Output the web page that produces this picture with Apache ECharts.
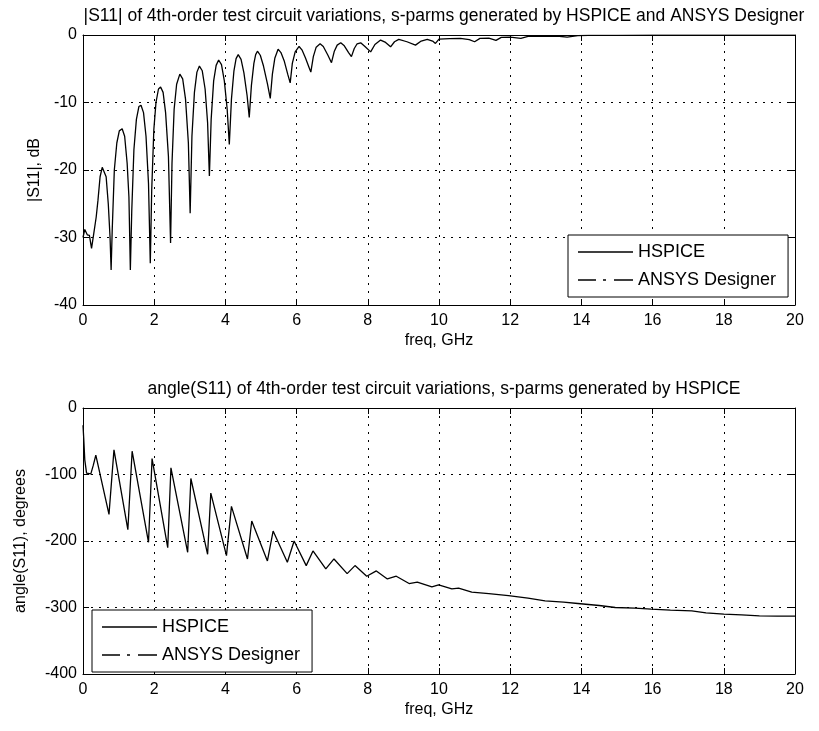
<!DOCTYPE html>
<html lang="en">
<head>
    <meta charset="UTF-8">
    <title>S11 of 4th-order test circuit</title>
    <script src="https://cdn.jsdelivr.net/npm/echarts@6/dist/echarts.min.js"></script>
    <style>
        body, html { margin: 0; padding: 0; background: #fff; }
        #main { width: 819px; height: 731px; }
    </style>
</head>
<body>
    <div id="main"></div>
    <script>
        // |S11| in dB (freq in GHz)
        var magFreq = [0.00, 0.05, 0.12, 0.18, 0.24, 0.30, 0.37, 0.42, 0.48, 0.54, 0.59, 0.65, 0.71, 0.76, 0.79,
            0.82, 0.88, 0.95, 1.02, 1.10, 1.17, 1.24, 1.29, 1.33,
            1.37, 1.43, 1.50, 1.57, 1.63, 1.70, 1.77, 1.84, 1.89,
            1.93, 1.99, 2.05, 2.12, 2.18, 2.25, 2.32, 2.40, 2.46,
            2.50, 2.56, 2.63, 2.72, 2.80, 2.88, 2.96, 3.01,
            3.06, 3.13, 3.20, 3.27, 3.35, 3.43, 3.50, 3.55,
            3.60, 3.67, 3.74, 3.81, 3.89, 3.97, 4.05, 4.11,
            4.17, 4.24, 4.30, 4.36, 4.44, 4.52, 4.61, 4.67,
            4.73, 4.80, 4.85, 4.90, 4.98, 5.07, 5.18, 5.26,
            5.32, 5.39, 5.48, 5.56, 5.65, 5.75, 5.82,
            5.88, 5.96, 6.07, 6.15, 6.25, 6.35, 6.40,
            6.47, 6.55, 6.66, 6.75, 6.88, 6.98,
            7.06, 7.14, 7.24, 7.34, 7.46, 7.54,
            7.62, 7.70, 7.80, 7.92, 8.08,
            8.20, 8.36, 8.50, 8.64, 8.75, 8.87, 9.10, 9.34, 9.50, 9.67, 9.82, 9.90,
            10.00, 10.30, 10.60, 10.85, 11.00, 11.15, 11.40, 11.60, 11.75, 12.00, 12.30, 12.50,
            13.00, 13.30, 13.60, 13.90, 14.20, 15.00, 16.00, 18.00, 20.00];
        var magDb = [-30.0, -28.8, -29.6, -29.7, -31.6, -29.5, -27.0, -24.5, -21.0, -19.6, -19.5, -21.0, -25.0, -30.0, -34.8,
            -29.0, -20.0, -16.0, -14.2, -13.9, -15.0, -19.0, -24.0, -34.8,
            -26.0, -17.0, -12.5, -10.6, -10.4, -11.5, -15.0, -22.0, -33.8,
            -23.0, -14.0, -10.0, -8.0, -7.7, -8.5, -11.5, -18.0, -30.8,
            -19.0, -11.0, -7.3, -5.8, -6.5, -9.5, -16.0, -26.4,
            -15.0, -8.5, -5.5, -4.6, -5.3, -8.0, -13.0, -20.9,
            -12.5, -6.8, -4.5, -3.7, -4.4, -6.8, -11.0, -16.2,
            -9.5, -5.3, -3.5, -2.9, -3.6, -5.6, -9.0, -12.2,
            -7.5, -4.2, -2.9, -2.4, -3.0, -4.6, -7.2, -9.4,
            -5.8, -3.4, -2.1, -2.6, -3.8, -5.8, -7.1,
            -4.2, -2.5, -1.7, -2.2, -3.4, -4.8, -5.5,
            -3.2, -1.8, -1.3, -1.7, -3.0, -4.1,
            -2.4, -1.5, -1.15, -1.6, -2.6, -3.2,
            -2.0, -1.3, -1.15, -1.7, -2.5,
            -1.4, -0.75, -1.1, -1.75, -1.0, -0.65, -1.0, -1.5, -0.9, -0.65, -0.9, -1.25,
            -0.6, -0.55, -0.5, -0.7, -1.0, -0.5, -0.45, -0.8, -0.35, -0.3, -0.5, -0.2,
            -0.2, -0.15, -0.3, -0.1, -0.05, -0.05, -0.03, -0.02, -0.02];

        // angle(S11) in degrees
        var angFreq = [0.00, 0.02, 0.05, 0.10, 0.15, 0.22, 0.29, 0.36,
            0.73, 0.87, 1.26, 1.38, 1.84, 1.94, 2.38, 2.47, 2.94, 3.03, 3.50, 3.59,
            4.03, 4.17, 4.62, 4.74, 5.18, 5.34, 5.74, 5.93, 6.27, 6.46, 6.82, 7.05,
            7.42, 7.64, 7.97, 8.24, 8.55, 8.80, 9.16, 9.39, 9.80, 9.99,
            10.36, 10.55, 10.92, 11.40, 11.95, 12.50, 12.98, 13.50, 13.90, 14.50, 14.95,
            15.50, 15.96, 16.50, 17.10, 17.50, 18.00, 18.50, 19.00, 19.50, 20.00];
        var angDeg = [-26, -45, -78, -98, -100, -99, -86, -71,
            -160, -63, -183, -65, -202, -76, -210, -90, -217, -106, -220, -128,
            -222, -148, -227, -170, -230, -185, -232, -200, -237, -215, -242, -227,
            -249, -237, -253, -245, -257, -253, -264, -262, -269, -266,
            -272, -271, -277, -279, -282, -286, -290, -292, -294, -297, -300,
            -301, -302.5, -304, -305, -308, -310, -311, -312.5, -313, -313];

        var xTicks = { min: 0, max: 20, interval: 2 };
        var magTicks = { min: -40, max: 0, interval: 10 };
        var angTicks = { min: -400, max: 0, interval: 100 };

        function pairs(xs, ys) {
            var out = [];
            for (var i = 0; i < xs.length; i++) out.push([xs[i], ys[i]]);
            return out;
        }

        var FONT = 'Liberation Sans';
        var black = '#000';
        var gridLine = { show: true, lineStyle: { color: black, width: 1, type: [2, 6] } };

        function xAx(gi, pos, main) {
            return {
                type: 'value', gridIndex: gi, position: pos,
                min: xTicks.min, max: xTicks.max, interval: xTicks.interval,
                axisLine: { show: true, onZero: false, lineStyle: { color: black, width: 1 } },
                axisTick: { show: true, inside: true, length: 6, lineStyle: { color: black } },
                axisLabel: { show: main, color: black, fontFamily: FONT, fontSize: 16, margin: 8 },
                splitLine: main ? gridLine : { show: false },
                name: main ? 'freq, GHz' : '', nameLocation: 'middle', nameGap: 28,
                nameTextStyle: { color: black, fontFamily: FONT, fontSize: 16 }
            };
        }
        function yAx(gi, pos, main, t, name, gap) {
            return {
                type: 'value', gridIndex: gi, position: pos,
                min: t.min, max: t.max, interval: t.interval,
                axisLine: { show: true, onZero: false, lineStyle: { color: black, width: 1 } },
                axisTick: { show: true, inside: true, length: 6, lineStyle: { color: black } },
                axisLabel: { show: main, color: black, fontFamily: FONT, fontSize: 16, margin: 6 },
                splitLine: main ? gridLine : { show: false },
                name: main ? name : '', nameLocation: 'middle', nameGap: gap, nameRotate: 90,
                nameTextStyle: { color: black, fontFamily: FONT, fontSize: 16 }
            };
        }

        var solid = { color: black, width: 1.3, type: 'solid' };
        var dashDot = { color: black, width: 1.3, type: [10, 5, 2, 5] };

        // legend icons: plain line and dash-dot line, no markers
        var solidIcon = 'path://M0,0H55V1H0Z';
        var dashDotIcon = 'path://M0,0H18V1H0Z M25,0H28V1H25Z M36,0H55V1H36Z';

        var legendBase = {
            orient: 'vertical', itemWidth: 55, itemHeight: 1.4, itemGap: 10,
            symbolKeepAspect: false,
            padding: [8, 12, 8, 10], borderColor: black, borderWidth: 1, backgroundColor: '#fff',
            borderRadius: 0, selectedMode: false,
            textStyle: { color: black, fontFamily: FONT, fontSize: 18, lineHeight: 18 },
            data: [
                { name: 'HSPICE', icon: solidIcon, itemStyle: { color: black } },
                { name: 'ANSYS Designer', icon: dashDotIcon, itemStyle: { color: black } }
            ]
        };

        var myChart = echarts.init(document.getElementById('main'));
        var option = {
            backgroundColor: '#fff',
            animation: false,
            title: [
                { text: '|S11| of 4th-order test circuit variations, s-parms generated by HSPICE and ANSYS Designer',
                  left: 439, top: 2, textAlign: 'center',
                  textStyle: { color: black, fontFamily: FONT, fontSize: 17.5, fontWeight: 'normal' } },
                { text: 'angle(S11) of 4th-order test circuit variations, s-parms generated by HSPICE',
                  left: 439, top: 375, textAlign: 'center',
                  textStyle: { color: black, fontFamily: FONT, fontSize: 17.5, fontWeight: 'normal' } }
            ],
            grid: [
                { left: 83, right: 24, top: 35, height: 270 },
                { left: 83, right: 24, top: 408, height: 266 }
            ],
            legend: [
                Object.assign({}, legendBase, { left: 568, top: 235 }),
                Object.assign({}, legendBase, { left: 92, top: 610 })
            ],
            xAxis: [xAx(0, 'bottom', true), xAx(0, 'top', false), xAx(1, 'bottom', true), xAx(1, 'top', false)],
            yAxis: [
                yAx(0, 'left', true, magTicks, '|S11|, dB', 38),
                yAx(0, 'right', false, magTicks, '', 0),
                yAx(1, 'left', true, angTicks, 'angle(S11), degrees', 54),
                yAx(1, 'right', false, angTicks, '', 0)
            ],
            series: [
                { name: 'HSPICE', type: 'line', xAxisIndex: 0, yAxisIndex: 0, symbol: 'none',
                  lineStyle: solid, itemStyle: { color: black }, data: pairs(magFreq, magDb) },
                { name: 'ANSYS Designer', type: 'line', xAxisIndex: 0, yAxisIndex: 0, symbol: 'none',
                  lineStyle: dashDot, itemStyle: { color: black }, data: [] },
                { name: 'HSPICE', type: 'line', xAxisIndex: 2, yAxisIndex: 2, symbol: 'none',
                  lineStyle: solid, itemStyle: { color: black }, data: pairs(angFreq, angDeg) },
                { name: 'ANSYS Designer', type: 'line', xAxisIndex: 2, yAxisIndex: 2, symbol: 'none',
                  lineStyle: dashDot, itemStyle: { color: black }, data: [] }
            ]
        };
        myChart.setOption(option);
    </script>
</body>
</html>
